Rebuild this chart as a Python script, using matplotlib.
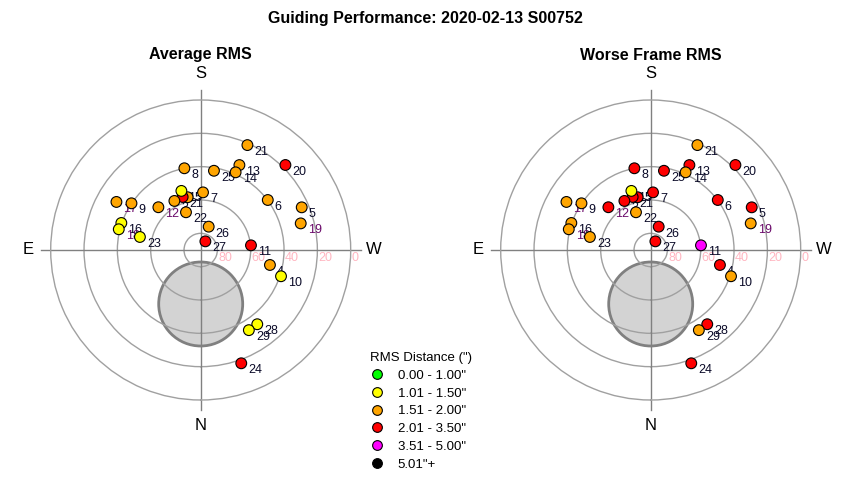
import numpy as np
import matplotlib
matplotlib.use('Agg')
import matplotlib.pyplot as plt
from matplotlib.lines import Line2D
from matplotlib.patches import Circle

plt.rcParams['font.family'] = ['Liberation Sans', 'DejaVu Sans']

# frame numbers and where the telescope pointed (degrees)
frames = list(range(1, 30))
azimuth = [166.1, 161.2, 151.8, 282.2, 247.1, 233.3, 182.3, 168.7, 124.0, 288.1,
           264.7, 135.3, 204.5, 204.2, 161.9, 108.8, 119.7, 104.2, 255.1, 224.9,
           204.0, 158.7, 102.1, 340.3, 189.5, 198.9, 208.4, 322.7, 329.0]
altitude = [57.4, 56.4, 56.6, 47.5, 24.2, 39.8, 55.4, 40.0, 39.9, 39.3,
            59.7, 53.9, 34.0, 38.9, 52.7, 39.7, 31.8, 39.3, 27.9, 18.0,
            21.1, 65.7, 52.7, 17.8, 41.8, 75.2, 84.1, 34.0, 33.9]

# RMS class of each frame (index into rms_bins)
avg_class = [2, 3, 2, 2, 2, 2, 2, 2, 2, 1,
             3, 2, 2, 2, 1, 1, 2, 1, 2, 3,
             2, 2, 1, 3, 2, 2, 3, 1, 1]
worst_class = [3, 3, 3, 3, 3, 3, 3, 3, 2, 2,
               4, 3, 3, 2, 1, 2, 2, 2, 2, 3,
               2, 2, 2, 3, 3, 3, 3, 3, 2]

rms_bins = ['0.00 - 1.00"', '1.01 - 1.50"', '1.51 - 2.00"',
            '2.01 - 3.50"', '3.51 - 5.00"', '5.01"+']
bin_colors = ['#00FF00', '#FFFF00', '#FFA500', '#FF0000', '#FF00FF', '#000000']

purple_frames = [12, 17, 18, 19]
ring_alts = [80, 60, 40, 20]
# zone that cannot be observed (around the pier), in alt/az degrees
blocked_alt = 57.6
blocked_radius = 25.2

W, H = 850, 480
fig = plt.figure(figsize=(8.5, 4.8), dpi=100)
fig.text(425 / W, 1 - 18 / H, 'Guiding Performance: 2020-02-13 S00752',
         ha='center', va='center', fontsize=11.5, fontweight='bold')

grid_col = '#A0A0A0'


def sky_plot(cx, title, classes):
    ax = fig.add_axes([(cx - 150) / W, (480 - 400) / H, 300 / W, 300 / H],
                      projection='polar')
    ax.set_theta_zero_location('S')
    ax.set_theta_direction(-1)
    ax.set_ylim(90, 0)
    ax.set_rgrids(ring_alts, labels=[''] * len(ring_alts))
    ax.set_thetagrids([])
    ax.grid(True, color=grid_col, lw=1)
    ax.spines['polar'].set_color(grid_col)
    ax.spines['polar'].set_linewidth(1)
    ax.yaxis.grid(True, color=grid_col, lw=1, zorder=1)

    # blocked zone
    c = 0.5 - (90 - blocked_alt) / 90 * 0.5
    ax.add_patch(Circle((0.5, c), blocked_radius / 90 * 0.5, transform=ax.transAxes,
                        facecolor='#D3D3D3', edgecolor='#808080', lw=2, zorder=0.5))

    # cross
    ext = 160 / 300
    ax.plot([0.5, 0.5], [0.5 - ext, 0.5 + ext], color='#808080', lw=1,
            transform=ax.transAxes, clip_on=False, zorder=2)
    ax.plot([0.5 - ext, 0.5 + ext], [0.5, 0.5], color='#808080', lw=1,
            transform=ax.transAxes, clip_on=False, zorder=2)
    d = 176 / 300
    for txt, x, y in [('S', 0.5, 0.5 + d), ('N', 0.5, 0.5 - d),
                      ('E', 0.5 - 173 / 300, 0.5), ('W', 0.5 + 173 / 300, 0.5)]:
        ax.text(x, y, txt, transform=ax.transAxes, ha='center', va='center',
                fontsize=12)

    for a in ring_alts + [0]:
        ax.annotate(str(a), xy=(np.radians(270), a), xytext=(1, -2),
                    textcoords='offset pixels', ha='left', va='top',
                    color='#FFB6C1', fontsize=9, annotation_clip=False)

    th = np.radians(azimuth)
    for i, f in enumerate(frames):
        col = '#6A0A6A' if f in purple_frames else '#0A0A28'
        ax.annotate(str(f), xy=(th[i], altitude[i]), xytext=(7, -7),
                    textcoords='offset pixels', ha='left', va='center',
                    color=col, fontsize=9, zorder=3)
    ax.scatter(th, altitude, s=60, c=[bin_colors[k] for k in classes],
               edgecolors='black', linewidths=0.8, zorder=4, clip_on=False)

    fig.text(cx / W, 1 - 55 / H, title, ha='center', va='center',
             fontsize=11.5, fontweight='bold')
    return ax


sky_plot(200.7, 'Average RMS', avg_class)
sky_plot(650.7, 'Worse Frame RMS', worst_class)

handles = [Line2D([], [], ls='none', marker='o', markersize=7, markerfacecolor=c,
                  markeredgecolor='black', markeredgewidth=0.8) for c in bin_colors]
fig.legend(handles, rms_bins, title='RMS Distance (")', loc='upper left',
           bbox_to_anchor=(370 / W, 1 - 352 / H), frameon=False, alignment='left',
           fontsize=9.5, title_fontsize=9.5, borderpad=0, borderaxespad=0,
           handlelength=1.0, handletextpad=1.1, labelspacing=0.42)

fig.savefig('out.png', dpi=100)
